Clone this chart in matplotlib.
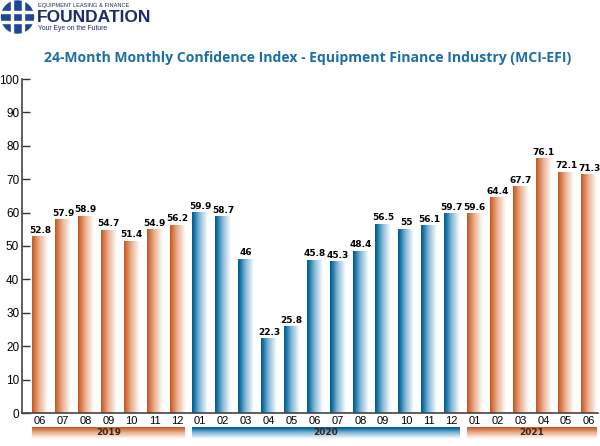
import numpy as np
import matplotlib.pyplot as plt
import matplotlib.transforms as mtransforms
from matplotlib.colors import LinearSegmentedColormap
from matplotlib.patches import Circle, Rectangle

months = ['06', '07', '08', '09', '10', '11', '12',
          '01', '02', '03', '04', '05', '06', '07', '08', '09', '10', '11', '12',
          '01', '02', '03', '04', '05', '06']
values = [52.8, 57.9, 58.9, 54.7, 51.4, 54.9, 56.2,
          59.9, 58.7, 46, 22.3, 25.8, 45.8, 45.3, 48.4, 56.5, 55, 56.1, 59.7,
          59.6, 64.4, 67.7, 76.1, 72.1, 71.3]
years = ['2019', '2020', '2021']
year_counts = [7, 12, 6]

orange = LinearSegmentedColormap.from_list(
    'o', [(0, '#bf561e'), (0.1, '#cf6a34'), (0.45, '#eaae8e'), (1, '#ffffff')])
blue = LinearSegmentedColormap.from_list(
    'b', [(0, '#035a8f'), (0.1, '#0a6aa0'), (0.45, '#7fb5d4'), (1, '#ffffff')])
year_cmaps = [orange, blue, orange]

fig = plt.figure(figsize=(6, 4.46), dpi=100)
ax = fig.add_axes([22 / 600, 33 / 446, 576 / 600, 334 / 446])

x = np.arange(len(values))
bars = ax.bar(x, values, width=0.68, color='none', edgecolor='none')

grad_h = np.linspace(0, 1, 64).reshape(1, -1)
bar_cmaps = []
for cm, n in zip(year_cmaps, year_counts):
    bar_cmaps += [cm] * n

for b, cm, v in zip(bars, bar_cmaps, values):
    x0, w, h = b.get_x(), b.get_width(), b.get_height()
    ax.imshow(grad_h, cmap=cm, aspect='auto', extent=(x0, x0 + w, 0, h),
              interpolation='bilinear', zorder=2)
    ax.text(x0 + w / 2, h + 0.6, f'{v:g}', ha='center', va='bottom',
            fontsize=6.5, fontweight='bold', color='black', zorder=3)

ax.set_yticks(range(0, 101, 10))
ax.set_xticks(x)
ax.set_xticklabels(months)
ax.tick_params(axis='y', direction='in', length=6, width=1, labelsize=8.5,
               pad=2, colors='#333333', labelcolor='black')
ax.tick_params(axis='x', length=0, labelsize=8, pad=2)
for lbl in ax.get_yticklabels() + ax.get_xticklabels():
    lbl.set_family('Liberation Sans')
for s in ['top', 'right']:
    ax.spines[s].set_visible(False)
for s in ['left', 'bottom']:
    ax.spines[s].set_color('#444444')
    ax.spines[s].set_linewidth(1.2)

# year bands below the axis
trans = mtransforms.blended_transform_factory(ax.transData, ax.transAxes)
grad_v = np.linspace(0, 1, 32).reshape(-1, 1)
start = 0
for yr, n, cm in zip(years, year_counts, year_cmaps):
    left = bars[start].get_x()
    right = bars[start + n - 1].get_x() + bars[start + n - 1].get_width()
    ax.imshow(grad_v, cmap=cm, aspect='auto', extent=(left, right, -0.077, -0.043),
              transform=trans, clip_on=False, interpolation='bilinear', zorder=2)
    ax.text((left + right) / 2, -0.059, yr, transform=trans, ha='center', va='center',
            fontsize=6.5, fontweight='bold', color='#3a2418', clip_on=False)
    start += n
ax.set_xlim(-0.79, 24.39)
ax.set_ylim(0, 100)

# title
fig.text(308 / 600, 1 - 58 / 446,
         '24-Month Monthly Confidence Index - Equipment Finance Industry (MCI-EFI)',
         ha='center', va='center', fontsize=10.1, fontweight='bold',
         color='#1b6ea6', family='Open Sans')

# logo
lax = fig.add_axes([0, 1 - 36 / 446, 160 / 600, 36 / 446])
lax.set_xlim(0, 160)
lax.set_ylim(36, 0)
lax.axis('off')
lax.add_patch(Circle((17.5, 17), 16, color='#1f4594'))
for xx in (12, 23):
    lax.add_patch(Rectangle((xx - 0.8, 1), 1.6, 32, color='white'))
for yy in (12, 22):
    lax.add_patch(Rectangle((1, yy - 0.8), 33, 1.6, color='white'))
lax.text(38, 5.3, 'EQUIPMENT LEASING & FINANCE', fontsize=4.1, color='#1f2a6e',
         va='center', ha='left', family='Liberation Sans')
lax.text(37, 17, 'FOUNDATION', fontsize=12.5, fontweight='bold', color='#1f2a6e',
         va='center', ha='left', family='Liberation Sans')
lax.text(38, 28.5, 'Your Eye on the Future', fontsize=4.9, color='#1f2a6e',
         va='center', ha='left', family='Liberation Sans')

fig.savefig('out.png', dpi=100)
